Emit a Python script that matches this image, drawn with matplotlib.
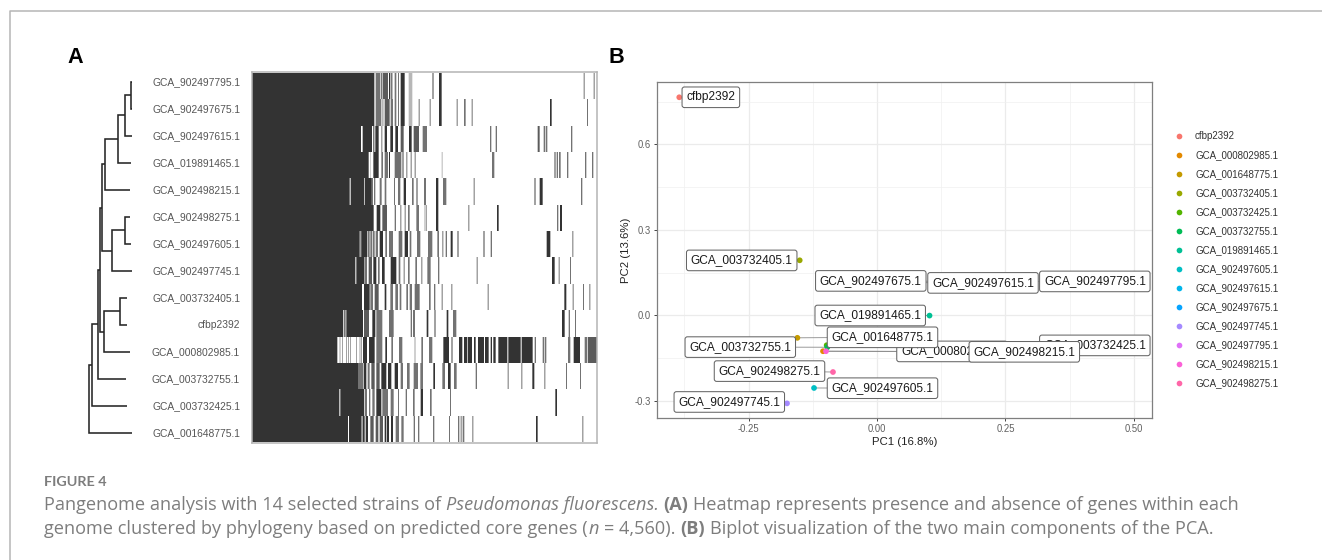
import matplotlib
matplotlib.use("Agg")
import matplotlib.pyplot as plt
import numpy as np
from matplotlib.colors import LinearSegmentedColormap
from matplotlib.lines import Line2D
from matplotlib.ticker import FixedLocator

plt.rcParams['font.family'] = ['Liberation Sans', 'DejaVu Sans']

W, H = 1322, 560
D, G, L = 1.0, 0.68, 0.35

# ---------- Panel A data ----------
row_labels = ["GCA_902497795.1", "GCA_902497675.1", "GCA_902497615.1", "GCA_019891465.1",
              "GCA_902498215.1", "GCA_902498275.1", "GCA_902497605.1", "GCA_902497745.1",
              "GCA_003732405.1", "cfbp2392", "GCA_000802985.1", "GCA_003732755.1",
              "GCA_003732425.1", "GCA_001648775.1"]

# branch depth of each tip and (child, child, depth) for each internal node
tip_depth = [131.7, 131.7, 131.7, 131, 130.3, 130, 130.7, 131.7, 127.3, 127.3, 130.3, 125.7, 127, 131.7]
tree_nodes = [("t0", "t1", 131.3), ("n0", "t2", 125), ("n1", "t3", 118.3), ("n2", "t4", 105),
              ("t5", "t6", 124.7), ("n4", "t7", 112), ("n3", "n5", 101.7),
              ("t8", "t9", 120.3), ("n7", "t10", 104), ("n6", "n8", 100.3),
              ("n9", "t11", 97.7), ("n10", "t12", 92), ("n11", "t13", 89.3)]

# presence runs per genome: (first bin, last bin, level)
row0 = [(-233,134,D),(138,152,G),(155,158,D),(160,175,0.8),(178,182,D),(185,188,D),(195,200,G),(205,208,G),(213,225,D),(237,248,L),(305,309,G),(325,333,D),(759,762,G),(789,792,G)]
row1 = [(-233,134,D),(138,155,G),(157,162,L),(165,180,0.8),(183,190,G),(195,200,G),(205,208,G),(213,225,D),(237,248,L),(267,270,G),(297,300,G),(325,333,D),(378,381,G),(400,405,G),(423,426,G),(658,663,D),(769,772,G)]
row2 = [(-233,94,D),(99,127,D),(131,134,D),(137,147,D),(155,158,G),(165,172,D),(182,190,D),(197,205,D),(213,222,0.8),(238,246,D),(252,268,0.8),(279,289,G),(478,482,G),(495,499,G),(621,627,0.8),(639,643,G),(645,650,G),(721,725,G)]
row3 = [(-233,117,D),(121,123,L),(131,147,D),(155,160,G),(165,175,G),(178,181,D),(195,215,0.7),(218,222,G),(230,233,G),(243,246,G),(255,258,G),(333,336,L),(484,491,G),(671,675,G),(678,682,G),(685,690,G),(709,713,G),(763,767,G),(784,788,G)]
row4 = [(-233,60,D),(63,103,D),(105,125,D),(125,130,G),(133,137,G),(150,156,G),(165,170,G),(193,196,G),(205,212,G),(222,229,D),(247,252,G),(260,264,G),(283,286,G),(316,323,D),(337,347,G),(429,432,G),(611,615,G),(627,636,D),(751,755,G)]
row5 = [(-233,132,D),(141,152,D),(158,172,0.8),(195,199,G),(212,215,G),(225,228,G),(235,240,G),(260,268,G),(285,288,G),(316,323,D),(413,416,G),(499,504,D),(679,683,G),(688,694,D)]
row6 = [(-233,90,D),(92,96,G),(96,113,D),(115,120,G),(122,128,G),(130,135,G),(138,145,G),(150,160,D),(167,172,G),(178,190,G),(207,218,0.7),(225,235,D),(240,245,G),(262,272,G),(292,305,G),(320,325,G),(335,338,G),(345,349,G),(360,366,D),(380,384,G),(458,462,G),(480,484,G),(648,659,D),(725,728,G)]
row7 = [(-233,77,D),(80,103,D),(104,112,G),(117,127,0.8),(131,140,D),(145,150,G),(157,165,D),(183,200,D),(207,212,G),(222,225,G),(235,240,G),(257,262,G),(275,278,G),(290,300,G),(322,326,G),(438,441,G),(664,672,D),(684,687,G),(718,721,G)]
row8 = [(-233,97,D),(103,120,D),(122,130,G),(135,147,0.8),(165,170,D),(182,190,G),(197,205,G),(210,215,G),(230,235,G),(240,247,G),(255,270,0.7),(295,300,G),(310,314,G),(333,336,G),(362,365,G),(471,474,G),(701,707,D),(726,729,G),(757,760,G),(776,779,G)]
row9 = [(-233,40,D),(42,48,G),(50,100,D),(103,118,0.8),(128,137,D),(140,158,G),(178,192,0.7),(243,247,G),(250,256,G),(288,293,D),(311,315,G),(348,353,D),(367,377,G),(694,702,D),(714,718,G),(733,736,G)]
row10 = [(-233,23,D),(30,32,G),(38,40,G),(50,52,G),(55,57,G),(62,64,G),(80,82,G),(90,92,G),(95,97,G),(100,112,D),(118,135,D),(140,158,G),(167,172,D),(185,190,G),(208,218,G),(255,257,G),(275,280,G),(295,305,G),(338,355,D),(362,366,G),(385,395,D),(400,410,D),(412,424,D),(430,435,D),(442,460,D),(463,474,D),(480,484,D),(488,495,D),(503,530,D),(533,570,D),(573,606,D),(612,616,G),(636,640,G),(642,647,G),(712,719,G),(729,748,D),(762,770,G),(772,800,0.8)]
row11 = [(-233,85,D),(85,100,G),(102,110,D),(114,120,G),(125,135,0.8),(140,150,0.8),(155,170,D),(175,185,D),(195,205,D),(213,220,G),(232,240,G),(252,265,G),(272,280,G),(308,313,D),(335,343,G),(352,360,D),(370,378,G),(435,439,G),(531,534,G),(572,575,G),(605,611,D),(641,644,G),(706,709,G),(748,751,G)]
row12 = [(-233,29,D),(32,103,D),(105,112,G),(118,122,G),(128,135,G),(140,155,D),(158,175,G),(183,192,G),(205,208,G),(228,232,G),(250,255,G),(273,280,D),(298,303,G),(358,361,G),(674,679,D)]
row13 = [(-233,55,D),(58,95,D),(96,99,G),(100,105,D),(108,115,D),(122,132,0.8),(138,146,0.8),(150,160,0.8),(165,170,D),(172,178,D),(184,190,D),(198,208,G),(215,222,G),(252,256,G),(265,269,G),(307,311,G),(355,358,G),(382,386,G),(390,393,G),(396,401,G),(425,428,G),(616,621,D),(755,758,G)]
heat_rows = [row0,row1,row2,row3,row4,row5,row6,row7,row8,row9,row10,row11,row12,row13]

# ---------- Panel B data ----------
pca_names = ["cfbp2392","GCA_000802985.1","GCA_001648775.1","GCA_003732405.1","GCA_003732425.1",
             "GCA_003732755.1","GCA_019891465.1","GCA_902497605.1","GCA_902497615.1","GCA_902497675.1",
             "GCA_902497745.1","GCA_902497795.1","GCA_902498215.1","GCA_902498275.1"]
pc1 = [-0.385,-0.1051,-0.155,-0.1505,-0.098,-0.0967,0.1023,-0.1226,0.0,-0.01,-0.1752,0.02,-0.0993,-0.0857]
pc2 = [0.765,-0.126,-0.079,0.193,-0.105,-0.112,-0.001,-0.255,0.115,0.125,-0.309,0.12,-0.126,-0.199]
label_x = [-0.3235,0.1460,0.0107,-0.2634,0.4241,-0.2662,-0.0132,0.0107,0.2064,-0.0121,-0.2876,0.4241,0.2868,-0.2093]
label_y = [0.765,-0.1267,-0.0772,0.1926,-0.1056,-0.1116,-0.0007,-0.2558,0.1137,0.1207,-0.3041,0.1189,-0.1281,-0.1958]
colors = ["#F8766D","#E38900","#C49A00","#99A800","#53B400","#00BC56","#00C094","#00BFC4",
          "#00B6EB","#06A4FF","#A58AFF","#DF70F8","#FB61D7","#FF66A8"]
xticks = [-0.25, 0.0, 0.25, 0.5]
xtick_labels = ["-0.25", "0.00", "0.25", "0.50"]
yticks = [-0.3, 0.0, 0.3, 0.6]
ytick_labels = ["-0.3", "0.0", "0.3", "0.6"]
xminor = [-0.375, -0.125, 0.125, 0.375]
yminor = [-0.15, 0.15, 0.45, 0.75]

# ---------- Caption ----------
caption_head = "FIGURE 4"
caption1 = [("Pangenome analysis with 14 selected strains of", "n"), ("Pseudomonas fluorescens.", "i"),
            ("(A)", "b"), ("Heatmap represents presence and absence of genes within each", "n")]
caption2 = [("genome clustered by phylogeny based on predicted core genes (", "n"), ("n", "i"),
            ("= 4,560).", "n"), ("(B)", "b"), ("Biplot visualization of the two main components of the PCA.", "n")]


def axpx(x0, y0, x1, y1, **kw):
    return fig.add_axes([x0 / W, 1 - y1 / H, (x1 - x0) / W, (y1 - y0) / H], **kw)


fig = plt.figure(figsize=(W / 100, H / 100), dpi=100, facecolor="white")

# page frame (left and top rule)
fig.add_artist(Line2D([9.5 / W, 9.5 / W, 1], [0, 1 - 11 / H, 1 - 11 / H], color="#b5b5b5", lw=1.1))

# panel letters
fig.text(67 / W, 1 - 63 / H, "A", fontsize=15.6, fontweight="bold", color="black")
fig.text(609 / W, 1 - 63 / H, "B", fontsize=15.6, fontweight="bold", color="black")

# ---------- Tree ----------
ax_t = axpx(85, 70, 242, 445)
ax_t.set_xlim(85, 242)
rows_per_px = 1 / 27.02
ax_t.set_ylim((445 - 81.7) * rows_per_px, (70 - 81.7) * rows_per_px)
ax_t.axis("off")
pos = {f"t{i}": (d, float(i)) for i, d in enumerate(tip_depth)}
tree_c = "#262626"
for k, (a, b, d) in enumerate(tree_nodes):
    xa, ya = pos[a]
    xb, yb = pos[b]
    ax_t.plot([xa, d, d, xb], [ya, ya, yb, yb], color=tree_c, lw=1.15, solid_joinstyle="miter", solid_capstyle="butt")
    pos[f"n{k}"] = (d, (ya + yb) / 2)
for i, name in enumerate(row_labels):
    ax_t.text(240, i, name, ha="right", va="center", fontsize=7.37, color="#555555")

# ---------- Heatmap ----------
bins_lo, bins_hi = -233, 800
fine = np.zeros((len(heat_rows), bins_hi - bins_lo))
for r, runs in enumerate(heat_rows):
    for s, e, v in runs:
        fine[r, s - bins_lo:e - bins_lo] = v
n_cols = fine.shape[1] // 3
mat = fine[:, :n_cols * 3].reshape(len(heat_rows), n_cols, 3).mean(axis=2)
cmap = LinearSegmentedColormap.from_list("pa", ["#ffffff", "#333333"])
ax_h = axpx(252.3, 71.7, 596.7, 443.3)
ax_h.imshow(mat, aspect="auto", cmap=cmap, vmin=0, vmax=1, extent=[bins_lo, bins_hi, 14, 0], interpolation="nearest")
ax_h.set_xlim(bins_lo, bins_hi)
ax_h.set_ylim(14 + 1 / 26.3, -2.3 / 26.3)
ax_h.set_xticks([])
ax_h.set_yticks([])
for s in ax_h.spines.values():
    s.set_color("#b4b4b4")
    s.set_linewidth(1.1)

# ---------- PCA ----------
ax = axpx(657, 82, 1151.7, 417.7)
ax.set_xlim((657 - 877) / 513.6, (1151.7 - 877) / 513.6)
ax.set_ylim((315.3 - 417.7) / 285, (315.3 - 82) / 285)
ax.set_xticks(xticks, xtick_labels)
ax.set_yticks(yticks, ytick_labels)
ax.xaxis.set_minor_locator(FixedLocator(xminor))
ax.yaxis.set_minor_locator(FixedLocator(yminor))
ax.grid(True, which="major", color="#ebebeb", lw=0.9)
ax.grid(True, which="minor", color="#f0f0f0", lw=0.5)
ax.set_axisbelow(True)
ax.tick_params(which="minor", length=0)
ax.tick_params(which="major", length=2.4, width=0.7, color="#444444", labelsize=6.85, labelcolor="#606060", pad=2)
for s in ax.spines.values():
    s.set_color("#7f7f7f")
    s.set_linewidth(0.9)
ax.set_xlabel("PC1 (16.8%)", fontsize=8.2, color="#222222", labelpad=2.5)
ax.set_ylabel("PC2 (13.6%)", fontsize=8.2, color="#222222", labelpad=2.5)

for px_, py_, lx, ly in zip(pc1, pc2, label_x, label_y):
    ax.plot([px_, lx], [py_, ly], color="#8a8a8a", lw=0.6, zorder=2)
ax.scatter(pc1, pc2, c=colors, s=17, linewidths=0, zorder=3)
for name, lx, ly in zip(pca_names, label_x, label_y):
    ax.text(lx, ly, name, ha="center", va="center", fontsize=8.6, color="#1a1a1a", zorder=4,
            bbox=dict(boxstyle="round,pad=0.36,rounding_size=0.2", fc="white", ec="#666666", lw=0.75))

handles = [Line2D([], [], linestyle="none", marker="o", ms=4.1, mew=0, color=c) for c in colors]
fig.legend(handles, pca_names, loc="upper left", bbox_to_anchor=(1174.4 / W, 1 - 131 / H), frameon=False,
           fontsize=7, labelcolor="#333333", handlelength=1, handletextpad=1.12, labelspacing=0.925, borderpad=0, borderaxespad=0)

# ---------- Caption ----------
fig.canvas.draw()
rend = fig.canvas.get_renderer()
cap_c = "#7d7d7d"
styles = {"n": dict(), "i": dict(fontstyle="italic"), "b": dict(fontweight="bold")}
CAP_SIZE = 13.05
SPACE = 4.8


def caption_line(runs, y):
    x = 44.0
    for txt, st in runs:
        t = fig.text(x / W, 1 - y / H, txt, fontsize=CAP_SIZE, color=cap_c, family="Open Sans", **styles[st])
        x += t.get_window_extent(rend).width + (1 if txt.endswith("(") else SPACE)


fig.text(44 / W, 1 - 486 / H, caption_head, fontsize=10.4, color=cap_c, family="Lato", fontweight="bold")
caption_line(caption1, 510)
caption_line(caption2, 534)

fig.savefig("out.png", dpi=100)
